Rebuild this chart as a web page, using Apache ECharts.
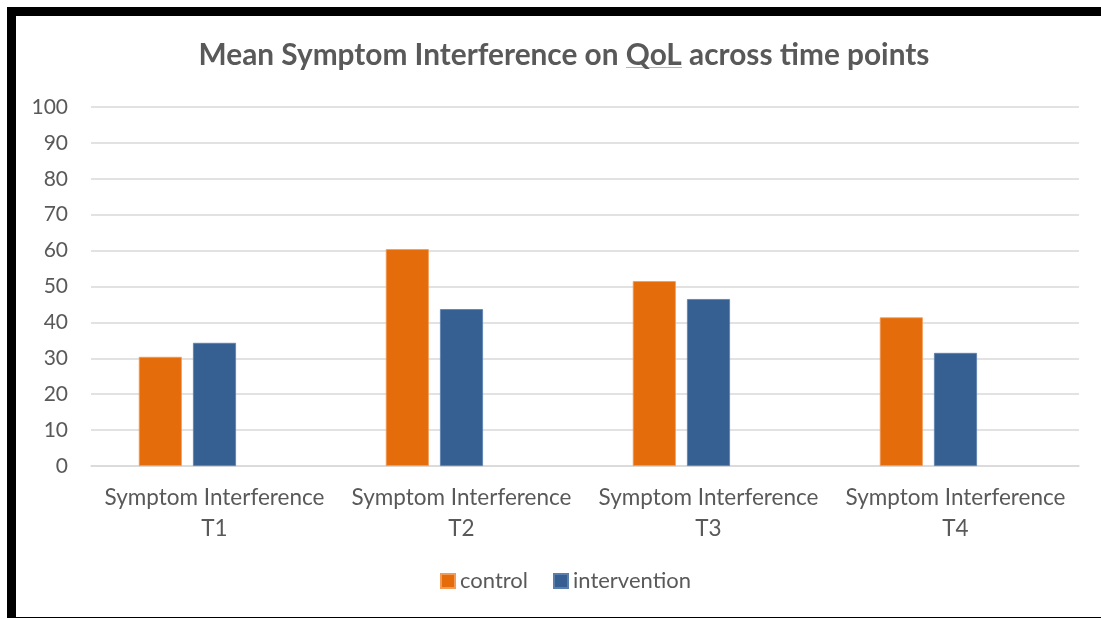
<!DOCTYPE html>
<html>
<head>
<meta charset="utf-8">
<script src="https://cdn.jsdelivr.net/npm/echarts@6/dist/echarts.min.js"></script>
<style>
  html, body { margin: 0; padding: 0; background: #fff; }
  #chart { position: absolute; left: 0; top: 0; width: 1101px; height: 619px; }
  #frame {
    position: absolute; left: 7px; top: 7px; width: 1094px; height: 611px;
    border-top: 9px solid #000; border-left: 9px solid #000; border-bottom: 1.5px solid #000;
    box-sizing: border-box; pointer-events: none;
  }
</style>
</head>
<body>
<div id="chart"></div>
<div id="frame"></div>
<script>
// Mean symptom interference scores per time point
const categories = ['Symptom Interference T1', 'Symptom Interference T2', 'Symptom Interference T3', 'Symptom Interference T4'];
const controlValues = [30.4, 60.4, 51.5, 41.4];
const interventionValues = [34.3, 43.7, 46.5, 31.5];
const yTicks = [0, 10, 20, 30, 40, 50, 60, 70, 80, 90, 100];

const chart = echarts.init(document.getElementById('chart'), null, { renderer: 'canvas' });
const font = 'Lato, "Open Sans", sans-serif';

chart.setOption({
  animation: false,
  backgroundColor: '#ffffff',
  title: {
    text: 'Mean Symptom Interference on QoL across time points',
    left: 559,
    top: 35,
    textAlign: 'center',
    textStyle: { fontFamily: font, fontWeight: 'bold', fontSize: 29.8, color: '#595959' }
  },
  legend: {
    data: ['control', 'intervention'],
    left: 435,
    top: 565,
    itemWidth: 14,
    itemHeight: 14,
    itemGap: 25,
    icon: 'rect',
    textStyle: { fontFamily: font, fontSize: 22, color: '#595959' }
  },
  grid: { left: 91, right: 22, top: 107, bottom: 153, containLabel: false },
  xAxis: {
    type: 'category',
    data: categories,
    axisLine: { lineStyle: { color: '#d9d9d9', width: 1.5 } },
    axisTick: { show: false },
    axisLabel: {
      interval: 0,
      margin: 16,
      lineHeight: 31,
      fontFamily: font,
      fontSize: 22.5,
      color: '#595959',
      formatter: v => v.replace(/ (T\d+)$/, '\n$1')
    }
  },
  yAxis: {
    type: 'value',
    min: yTicks[0],
    max: yTicks[yTicks.length - 1],
    interval: 10,
    axisLine: { show: false },
    axisTick: { show: false },
    splitLine: { lineStyle: { color: '#d9d9d9', width: 1.5 } },
    axisLabel: { margin: 23, fontFamily: font, fontSize: 21, color: '#595959' }
  },
  graphic: [
    {
      // spell-check underline beneath "QoL" in the title
      type: 'line',
      shape: { x1: 626, y1: 67.5, x2: 682, y2: 67.5 },
      style: { stroke: '#f19a9a', lineWidth: 1.2 },
      silent: true
    }
  ],
  series: [
    {
      name: 'control', type: 'bar', data: controlValues,
      barWidth: 43, barGap: '26%',
      itemStyle: { color: '#e46c0a', borderColor: '#f39a55', borderWidth: 0.8 }
    },
    {
      name: 'intervention', type: 'bar', data: interventionValues,
      barWidth: 43, barGap: '26%',
      itemStyle: { color: '#366092', borderColor: '#5a7fae', borderWidth: 0.8 }
    },
    {
      // empty third slot in each group, keeps the bars left of the category centre
      name: 'reserved', type: 'bar', data: [],
      barWidth: 43, barGap: '26%'
    }
  ]
});
</script>
</body>
</html>
